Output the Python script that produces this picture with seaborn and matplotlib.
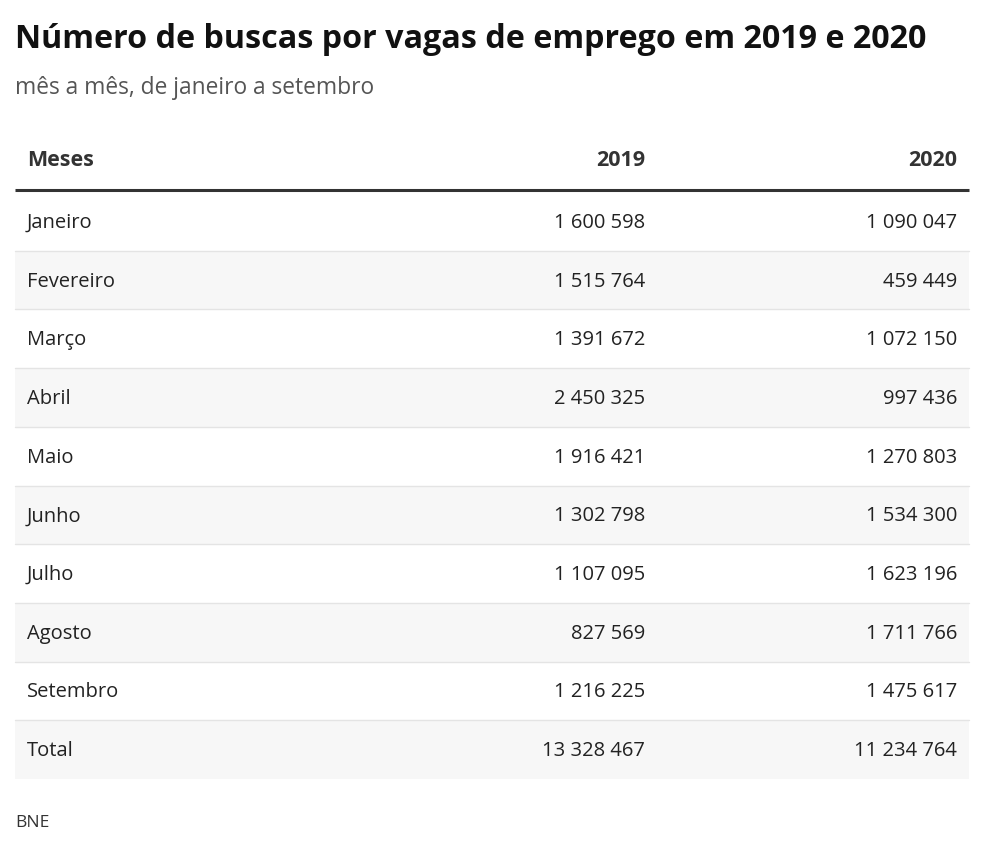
import matplotlib.pyplot as plt
import seaborn as sns

meses = ['Janeiro', 'Fevereiro', 'Março', 'Abril', 'Maio', 'Junho',
         'Julho', 'Agosto', 'Setembro', 'Total']
buscas_2019 = [1600598, 1515764, 1391672, 2450325, 1916421, 1302798,
               1107095, 827569, 1216225, 13328467]
buscas_2020 = [1090047, 459449, 1072150, 997436, 1270803, 1534300,
               1623196, 1711766, 1475617, 11234764]
colunas = ['Meses', '2019', '2020']


def fmt(n):
    return f'{n:,}'.replace(',', ' ')


sns.set_theme(style='white')
plt.rcParams['font.family'] = ['Open Sans', 'DejaVu Sans']

fig = plt.figure(figsize=(9.84, 8.55), dpi=100)
ax = fig.add_axes([0, 0, 1, 1])
ax.set_xlim(0, 984)
ax.set_ylim(855, 0)
ax.axis('off')

left, right = 15, 969
x_label, x_2019, x_2020 = 27, 645, 957
top = 192
row_h = 58.7

ax.text(15, 40, 'Número de buscas por vagas de emprego em 2019 e 2020',
        fontsize=23.2, fontweight='bold', color='#111111', va='center', ha='left')
ax.text(15, 88, 'mês a mês, de janeiro a setembro',
        fontsize=16.4, color='#555555', va='center', ha='left')

# cabeçalho
hdr = dict(fontsize=15.5, fontweight='bold', color='#333333', va='center')
ax.text(x_label, 161, colunas[0], ha='left', **hdr)
ax.text(x_2019, 161, colunas[1], ha='right', **hdr)
ax.text(x_2020, 161, colunas[2], ha='right', **hdr)
ax.plot([left, right], [top - 2, top - 2], color='#333333', lw=2.2, solid_capstyle='butt')

cel = dict(fontsize=14.5, color='#222222', va='center')
for i, (m, a, b) in enumerate(zip(meses, buscas_2019, buscas_2020)):
    y0 = top + i * row_h
    yc = y0 + row_h / 2 + 1.5
    if i % 2 == 1:
        ax.fill_between([left, right], y0, y0 + row_h, color='#f7f7f7', lw=0)
    if i < len(meses) - 1:
        ax.plot([left, right], [y0 + row_h, y0 + row_h], color='#e4e4e4', lw=1)
    ax.text(x_label, yc, m, ha='left', **cel)
    ax.text(x_2019, yc, fmt(a), ha='right', **cel)
    ax.text(x_2020, yc, fmt(b), ha='right', **cel)

ax.text(15, 823, 'BNE', fontsize=12.5, color='#333333', va='center', ha='left')

fig.savefig('out.png', dpi=100)
